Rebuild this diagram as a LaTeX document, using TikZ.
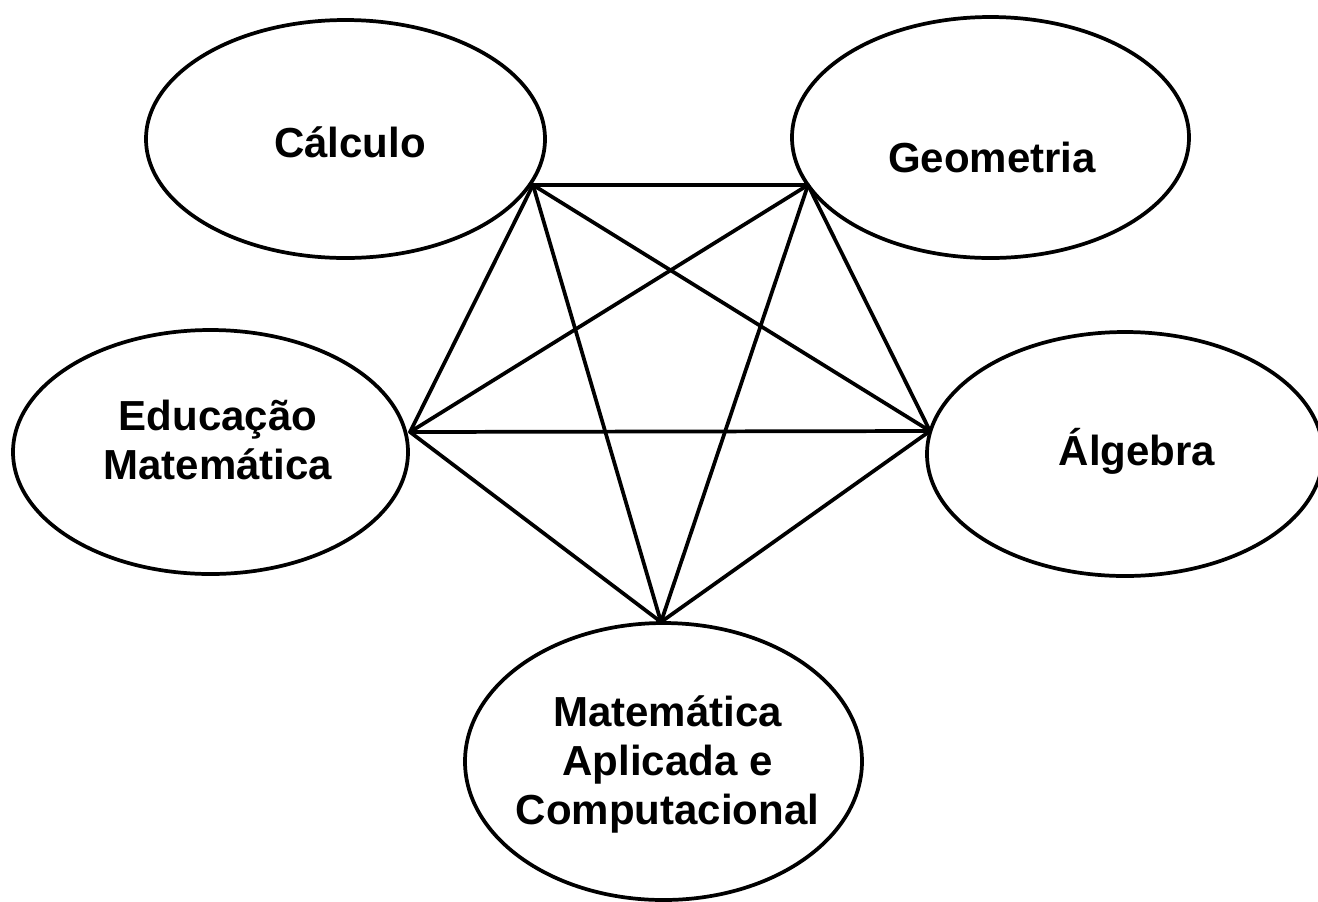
\documentclass[tikz,border=0pt]{standalone}
\usepackage{fontspec}
\setmainfont{Liberation Sans}
\usetikzlibrary{shapes.geometric}
\begin{document}
\begin{tikzpicture}[x=0.75pt,y=-0.75pt,
  ell/.style={draw=black,line width=2.8pt,ellipse,inner sep=0pt,fill=white},
  lbl/.style={font=\fontsize{31.5pt}{36.5pt}\selectfont\bfseries,align=center,inner sep=0pt,anchor=base},
  link/.style={draw=black,line width=2.8pt,line cap=round}]
\useasboundingbox (0,0) rectangle (1318,901);
% ellipses
\node[ell,minimum width=299.25pt,minimum height=178.5pt] (calc) at (345.5,139) {};
\node[ell,minimum width=297.75pt,minimum height=180.75pt] (geo) at (990.5,137.5) {};
\node[ell,minimum width=296.25pt,minimum height=183pt] (edu) at (210.5,452) {};
\node[ell,minimum width=297pt,minimum height=183pt] (alg) at (1125,454) {};
\node[ell,minimum width=297.75pt,minimum height=207.75pt] (mat) at (663.5,761.5) {};
% labels (base anchor = baseline of the last line)
\node[lbl] (calcT) at (350,157) {Cálculo};
\node[lbl] (geoT) at (992,172) {Geometria};
\node[lbl] (eduT) at (218,479) {Educação\\Matemática};
\node[lbl] (algT) at (1137,465) {Álgebra};
\node[lbl] (matT) at (667.5,824) {Matemática\\Aplicada e\\Computacional};
% connection points
\coordinate (pc) at (533,185);
\coordinate (pg) at (808,185);
\coordinate (pe) at (410,432);
\coordinate (pa) at (930,431);
\coordinate (pm) at (661,622);
% connectors
\draw[link] (pc) -- (pg);
\draw[link] (pc) -- (pe);
\draw[link] (pc) -- (pa);
\draw[link] (pc) -- (pm);
\draw[link] (pg) -- (pe);
\draw[link] (pg) -- (pa);
\draw[link] (pg) -- (pm);
\draw[link] (pe) -- (pa);
\draw[link] (pe) -- (pm);
\draw[link] (pa) -- (pm);
\end{tikzpicture}
\end{document}
